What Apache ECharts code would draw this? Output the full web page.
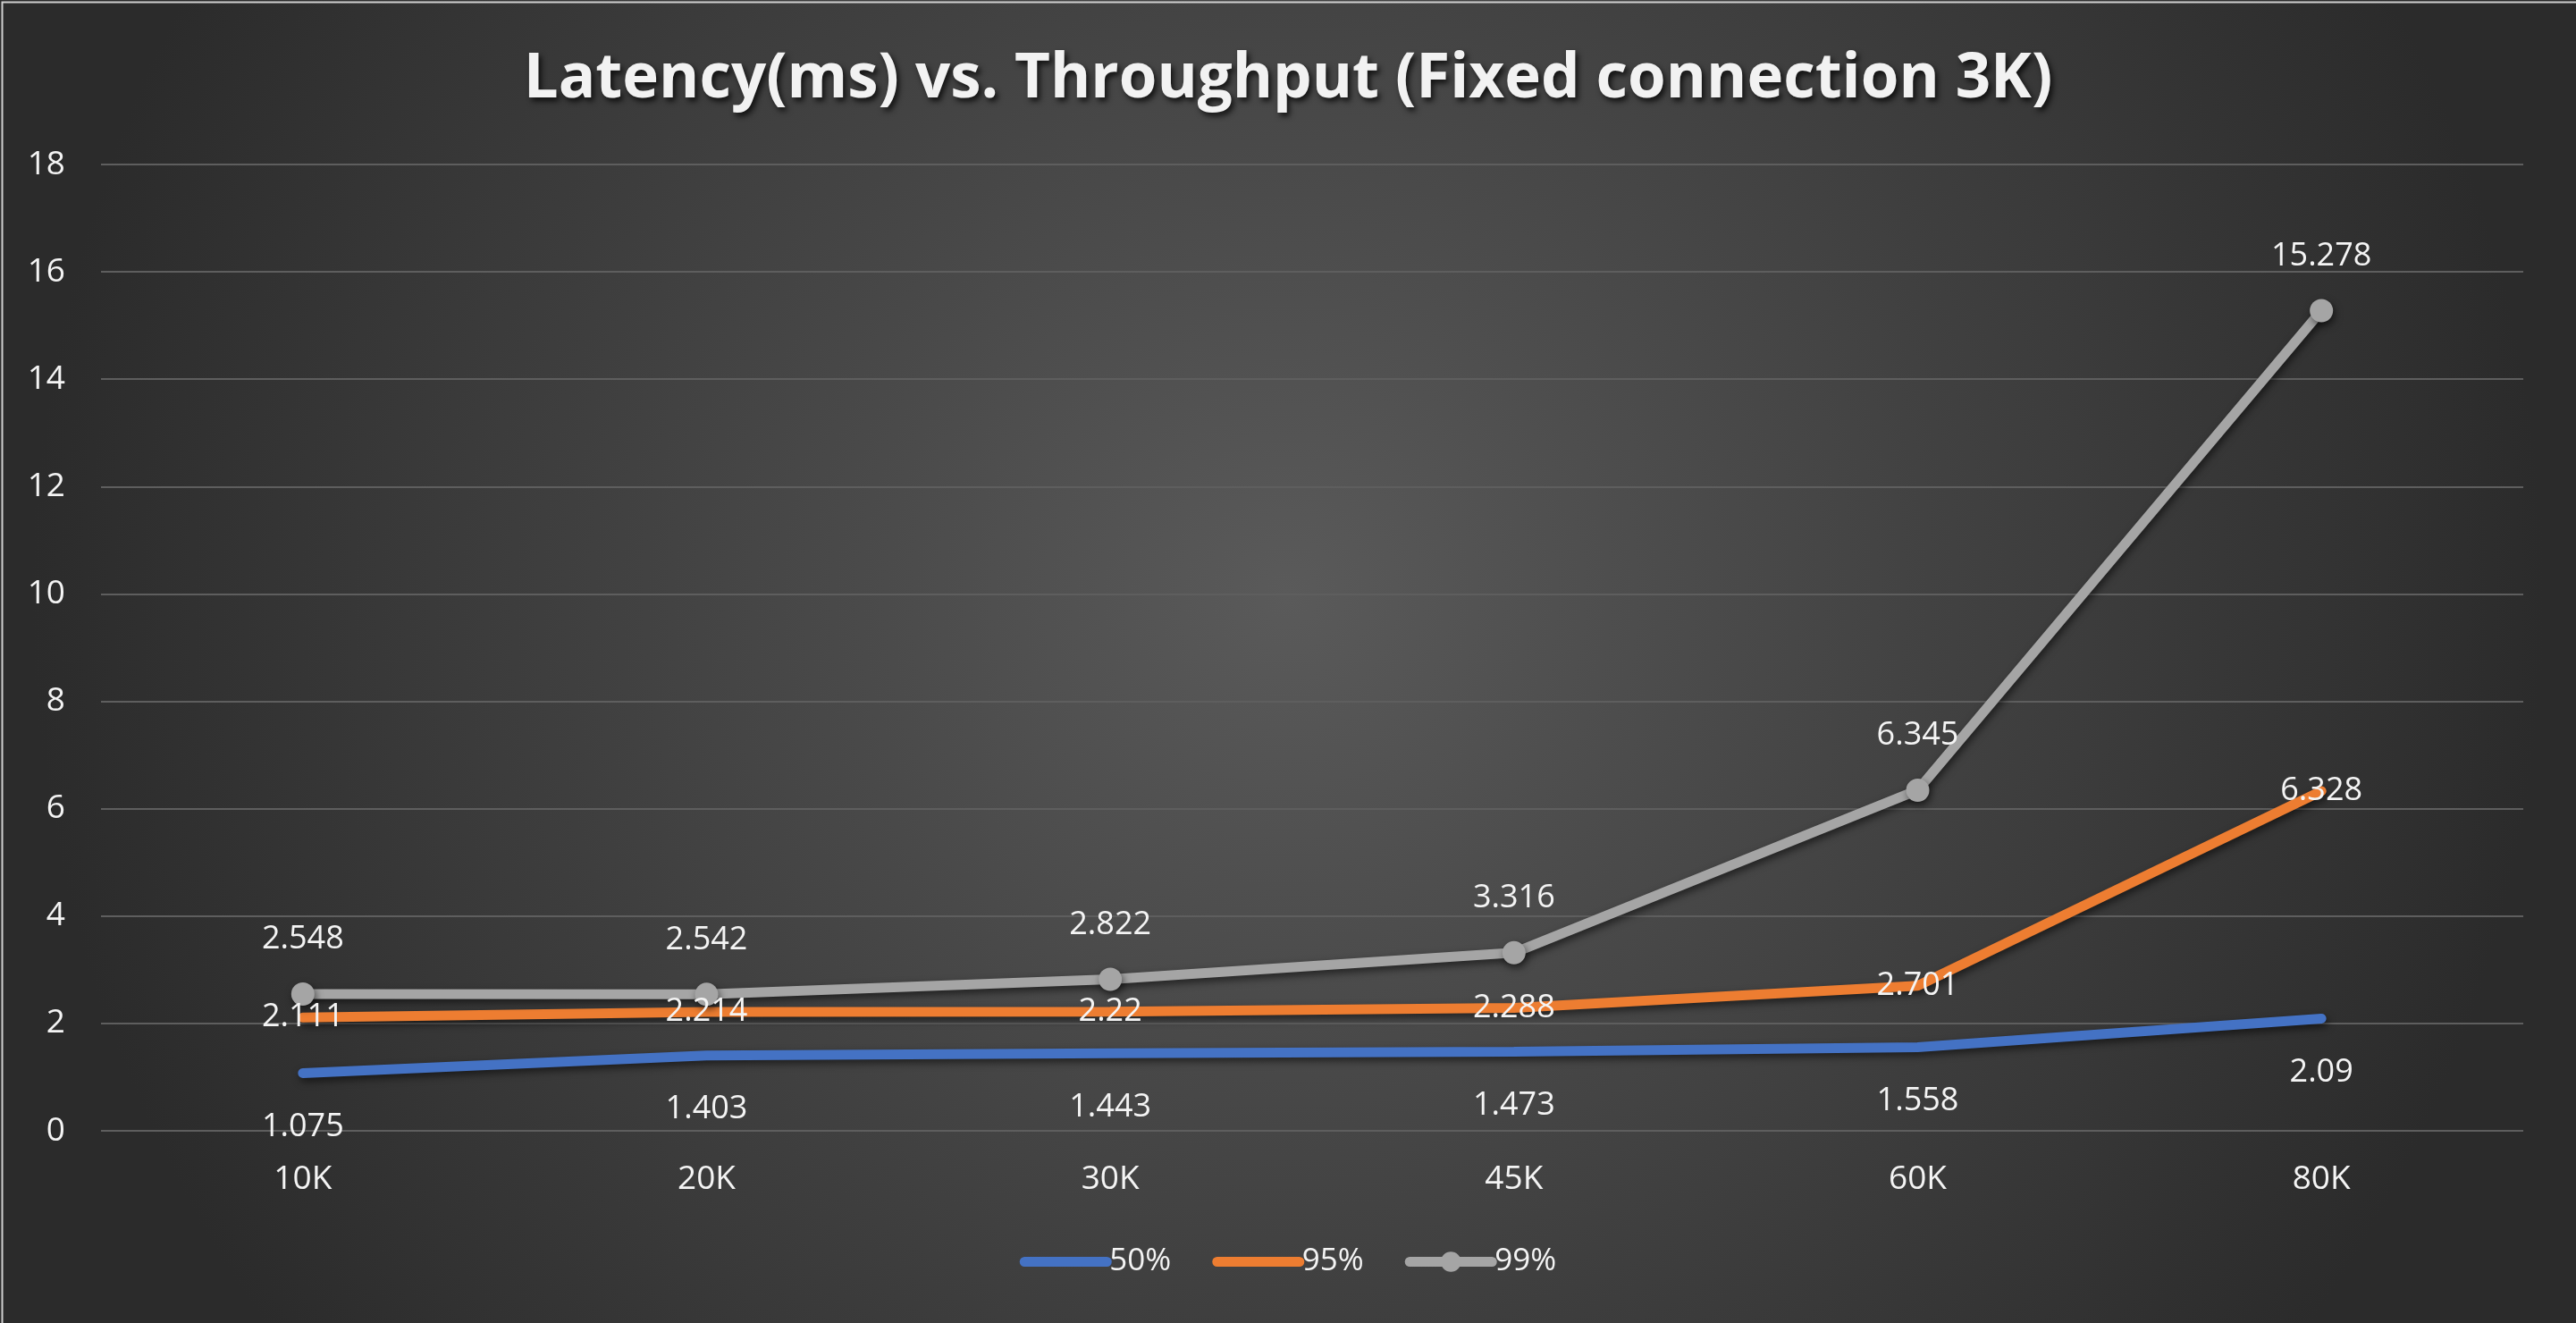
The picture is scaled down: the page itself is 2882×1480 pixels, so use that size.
<!DOCTYPE html>
<html>
<head>
<meta charset="utf-8">
<script src="https://cdn.jsdelivr.net/npm/echarts@6/dist/echarts.min.js"></script>
<style>
html,body{margin:0;padding:0;background:#333;}
#chart{width:2882px;height:1480px;}
</style>
</head>
<body>
<div id="chart"></div>
<script>
const titleText = 'Latency(ms) vs. Throughput (Fixed connection 3K)';
const categories = ['10K', '20K', '30K', '45K', '60K', '80K'];
const p50 = [1.075, 1.403, 1.443, 1.473, 1.558, 2.09];
const p95 = [2.111, 2.214, 2.22, 2.288, 2.701, 6.328];
const p99 = [2.548, 2.542, 2.822, 3.316, 6.345, 15.278];
const seriesNames = ['50%', '95%', '99%'];

const chart = echarts.init(document.getElementById('chart'));
const FONT = 'Open Sans';
const shadow = { shadowColor: 'rgba(0,0,0,0.55)', shadowBlur: 8, shadowOffsetX: 2, shadowOffsetY: 4 };

chart.setOption({
  backgroundColor: new echarts.graphic.RadialGradient(0.5, 0.45, 0.95, [
    { offset: 0, color: '#5a5a5a' },
    { offset: 1, color: '#2b2b2b' }
  ]),
  graphic: [{
    type: 'rect', left: 0, top: 0, z: 100, silent: true,
    shape: { x: 0.5, y: 0.5, width: 2881, height: 1479 },
    style: { fill: 'none', stroke: '#d0d0d0', lineWidth: 2 }
  }],
  title: {
    text: titleText, left: 'center', top: 50,
    textStyle: {
      color: '#f2f2f2', fontFamily: FONT, fontWeight: 'bold', fontSize: 69,
      textShadowColor: 'rgba(0,0,0,0.75)', textShadowBlur: 6, textShadowOffsetX: 3, textShadowOffsetY: 4
    }
  },
  grid: { left: 113, right: 59, top: 184, bottom: 215, containLabel: false },
  xAxis: {
    type: 'category', data: categories, boundaryGap: true,
    axisLine: { show: false }, axisTick: { show: false },
    axisLabel: { color: '#f4f4f4', fontFamily: FONT, fontSize: 37, margin: 36 }
  },
  yAxis: {
    type: 'value', min: 0, max: 18, interval: 2,
    axisLine: { show: false }, axisTick: { show: false },
    splitLine: { lineStyle: { color: '#5e5e5e', width: 2 } },
    axisLabel: { color: '#f4f4f4', fontFamily: FONT, fontSize: 37, margin: 40 }
  },
  legend: {
    bottom: 46, left: 'center', itemWidth: 92, itemHeight: 28, itemGap: 46,
    textStyle: { color: '#f4f4f4', fontFamily: FONT, fontSize: 35, padding: [0, 0, 0, -2] },
    lineStyle: { width: 11, cap: 'round' },
    data: [
      { name: seriesNames[0], itemStyle: { opacity: 0 } },
      { name: seriesNames[1], itemStyle: { opacity: 0 } },
      { name: seriesNames[2] }
    ]
  },
  series: [
    {
      name: seriesNames[0], type: 'line', data: p50, symbol: 'circle', symbolSize: 0.01,
      lineStyle: Object.assign({ color: '#4472c4', width: 11, cap: 'round' }, shadow),
      itemStyle: { color: '#4472c4' },
      label: { show: true, position: 'bottom', distance: 42, color: '#f4f4f4', fontFamily: FONT, fontSize: 36 }
    },
    {
      name: seriesNames[1], type: 'line', data: p95, symbol: 'circle', symbolSize: 0.01,
      lineStyle: Object.assign({ color: '#ed7d31', width: 11, cap: 'round' }, shadow),
      itemStyle: { color: '#ed7d31' },
      label: { show: true, position: 'inside', color: '#f4f4f4', fontFamily: FONT, fontSize: 36 }
    },
    {
      name: seriesNames[2], type: 'line', data: p99, symbol: 'circle', symbolSize: 26,
      lineStyle: Object.assign({ color: '#a5a5a5', width: 11, cap: 'round' }, shadow),
      itemStyle: Object.assign({ color: '#a5a5a5' }, shadow),
      label: { show: true, position: 'top', distance: 30, color: '#f4f4f4', fontFamily: FONT, fontSize: 36 }
    }
  ],
  animation: false
});
</script>
</body>
</html>
